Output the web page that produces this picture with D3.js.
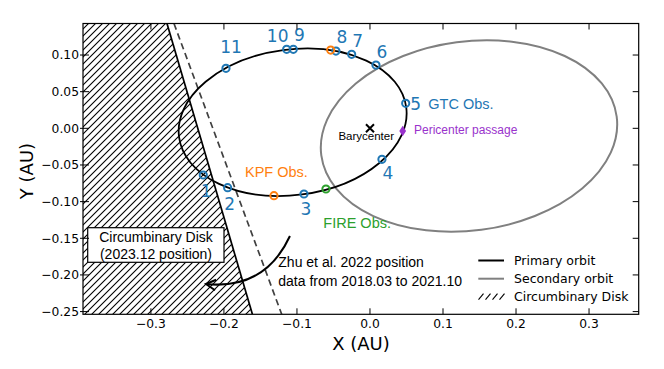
<!DOCTYPE html>
<html><head><meta charset="utf-8">
<script src="https://cdn.jsdelivr.net/npm/d3@7"></script>
<style>body{margin:0;background:#fff}</style>
</head><body>
<svg id="c" width="664" height="369"></svg>
<script>
// ---------- data ----------
const obsLabels = ["1","2","3","4","5","6","7","8","9","10","11"];
const obsX = [-0.2283,-0.1949,-0.0904,0.0164,0.0489,0.0082,-0.0251,-0.0466,-0.1050,-0.1141,-0.1972];
const obsY = [-0.0637,-0.0810,-0.0896,-0.0423,0.0341,0.0863,0.1009,0.1054,0.1078,0.1078,0.0818];
const kpfX = [-0.0538,-0.1315];
const kpfY = [0.1068,-0.0919];
const fireX = [-0.0603];
const fireY = [-0.0828];
const periX = [0.0448];
const periY = [-0.0037];
const baryX = [0];
const baryY = [0];
// orbit ellipses: centre x, centre y, semi-major, semi-minor, tilt (deg)
const primaryOrbit = [-0.1059, 0.0083, 0.1569, 0.0993, 7.5];
const secondaryOrbit = [0.1356, -0.0105, 0.204, 0.129, 7.5];
// disk edges (2023.12 and Zhu et al. 2022)
const diskEdgeX = [-0.278, -0.161];
const diskEdgeY = [0.1430, -0.2537];
const zhuEdgeX = [-0.2684, -0.1209];
const zhuEdgeY = [0.1430, -0.2537];
const xTicks = [-0.3,-0.2,-0.1,0.0,0.1,0.2,0.3];
const yTicks = [-0.25,-0.20,-0.15,-0.10,-0.05,0.00,0.05,0.10];
const legendLabels = ["Primary orbit","Secondary orbit","Circumbinary Disk"];
// annotation arrow: start, control, end (data units)
const arrowPts = [[-0.1096,-0.1469],[-0.1438,-0.2206],[-0.2246,-0.2124]];

// ---------- layout ----------
const L = 83, R = 638.7, T = 23.5, B = 314.3;
const x = d3.scaleLinear().domain([-0.393, 0.368]).range([L, R]);
const y = d3.scaleLinear().domain([-0.2537, 0.1430]).range([B, T]);
const svg = d3.select("#c");
const defs = svg.append("defs");
defs.append("clipPath").attr("id","clip").append("rect")
  .attr("x",L).attr("y",T).attr("width",R-L).attr("height",B-T);
const hw = 7;
const pat = defs.append("pattern").attr("id","hatch").attr("patternUnits","userSpaceOnUse")
  .attr("width",hw).attr("height",hw);
pat.append("path").attr("d",`M-1,1 l2,-2 M0,${hw} l${hw},-${hw} M${hw-1},${hw+1} l2,-2`)
  .attr("stroke","#000").attr("stroke-width",1.1);

const plot = svg.append("g").attr("clip-path","url(#clip)");
const font1 = "'Liberation Sans', Arial, sans-serif";
const font2 = "'DejaVu Sans', sans-serif";

// hatch region
const dom = x.domain();
const poly = [[dom[0]-0.05, diskEdgeY[0]], [diskEdgeX[0], diskEdgeY[0]], [diskEdgeX[1], diskEdgeY[1]], [dom[0]-0.05, diskEdgeY[1]]];
plot.append("path").attr("d", d3.line().x(d=>x(d[0])).y(d=>y(d[1]))(poly) + "Z")
  .attr("fill","url(#hatch)").attr("stroke","none");
plot.append("line").attr("x1",x(diskEdgeX[0])).attr("y1",y(diskEdgeY[0]))
  .attr("x2",x(diskEdgeX[1])).attr("y2",y(diskEdgeY[1]))
  .attr("stroke","#000").attr("stroke-width",1.7);
plot.append("line").attr("x1",x(zhuEdgeX[0])).attr("y1",y(zhuEdgeY[0]))
  .attr("x2",x(zhuEdgeX[1])).attr("y2",y(zhuEdgeY[1]))
  .attr("stroke","#404040").attr("stroke-width",1.7).attr("stroke-dasharray","6.5,4");

// orbits
function drawOrbit(o, col, w){
  const [cx,cy,a,b,t] = o;
  plot.append("ellipse").attr("cx",x(cx)).attr("cy",y(cy))
    .attr("rx",x(cx+a)-x(cx)).attr("ry",y(cy)-y(cy+b))
    .attr("transform",`rotate(${-t},${x(cx)},${y(cy)})`)
    .attr("fill","none").attr("stroke",col).attr("stroke-width",w);
}
drawOrbit(secondaryOrbit, "#808080", 2);
drawOrbit(primaryOrbit, "#000", 1.8);

// markers
function circles(xs, ys, col){
  xs.forEach((v,i)=>{
    svg.append("circle").attr("cx",x(v)).attr("cy",y(ys[i])).attr("r",3.6)
      .attr("fill","none").attr("stroke",col).attr("stroke-width",2);
  });
}
circles(obsX, obsY, "#1f77b4");
circles(kpfX, kpfY, "#ff7f0e");
circles(fireX, fireY, "#2ca02c");
periX.forEach((v,i)=>{
  const px=x(v), py=y(periY[i]);
  svg.append("path").attr("d",`M${px},${py-5.3} L${px+3.4},${py} L${px},${py+5.3} L${px-3.4},${py} Z`)
    .attr("fill","#9932cc");
});
baryX.forEach((v,i)=>{
  const px=x(v), py=y(baryY[i]), s=4;
  svg.append("path").attr("d",`M${px-s},${py-s} L${px+s},${py+s} M${px-s},${py+s} L${px+s},${py-s}`)
    .attr("stroke","#000").attr("stroke-width",2);
});

// number labels
const labOff = [[3,16],[2,16],[2,15],[6,14],[10,1],[6,-13],[6,-13],[6,-14],[6,-14],[-9,-13],[5,-21]];
obsLabels.forEach((t,i)=>{
  svg.append("text").attr("x",x(obsX[i])+labOff[i][0]).attr("y",y(obsY[i])+labOff[i][1])
    .attr("text-anchor","middle").attr("dominant-baseline","central")
    .attr("font-family",font2).attr("font-size",17).attr("fill","#1f77b4").text(t);
});

// text annotations
function txt(px,py,t,opts){
  const e = svg.append("text").attr("x",px).attr("y",py).text(t)
    .attr("font-family",opts.f||font1).attr("font-size",opts.s||14).attr("fill",opts.c||"#000");
  if(opts.a) e.attr("text-anchor",opts.a);
  return e;
}
txt(428.3,108.8,"GTC Obs.",{c:"#1f77b4",s:14.5});
txt(414,134.3,"Pericenter passage",{c:"#9932cc",s:12});
txt(366.2,140,"Barycenter",{s:11.5,a:"middle"});
txt(245,176.7,"KPF Obs.",{c:"#ff7f0e",s:14.5});
txt(323.3,228.3,"FIRE Obs.",{c:"#2ca02c",s:14.5});
txt(278.3,267,"Zhu et al. 2022 position",{s:14});
txt(278.3,285.5,"data from 2018.03 to 2021.10",{s:14});

// box
svg.append("rect").attr("x",87.7).attr("y",227.7).attr("width",136.3).attr("height",34.6)
  .attr("fill","#fff").attr("stroke","#000").attr("stroke-width",1.2);
txt(156,242,"Circumbinary Disk",{s:14,a:"middle"});
txt(156,259,"(2023.12 position)",{s:14,a:"middle"});

// arrow
const [p0,p1,p2] = arrowPts.map(p=>[x(p[0]),y(p[1])]);
svg.append("path").attr("d",`M${p0[0]},${p0[1]} Q${p1[0]},${p1[1]} ${p2[0]},${p2[1]}`)
  .attr("fill","none").attr("stroke","#000").attr("stroke-width",2);
{
  const dx=p2[0]-p1[0], dy=p2[1]-p1[1], n=Math.hypot(dx,dy), ux=dx/n, uy=dy/n;
  const len=11, ang=0.5;
  const a1=[p2[0]-len*(ux*Math.cos(ang)-uy*Math.sin(ang)), p2[1]-len*(uy*Math.cos(ang)+ux*Math.sin(ang))];
  const a2=[p2[0]-len*(ux*Math.cos(-ang)-uy*Math.sin(-ang)), p2[1]-len*(uy*Math.cos(-ang)+ux*Math.sin(-ang))];
  svg.append("path").attr("d",`M${a1[0]},${a1[1]} L${p2[0]},${p2[1]} L${a2[0]},${a2[1]}`)
    .attr("fill","none").attr("stroke","#000").attr("stroke-width",2).attr("stroke-linejoin","miter");
}

// legend
const legY = [260.5, 278.7, 296.7];
const lg = svg.append("g");
lg.append("line").attr("x1",478.3).attr("x2",504).attr("y1",legY[0]).attr("y2",legY[0]).attr("stroke","#000").attr("stroke-width",2);
lg.append("line").attr("x1",478.3).attr("x2",504).attr("y1",legY[1]).attr("y2",legY[1]).attr("stroke","#808080").attr("stroke-width",2);
for(let k=0;k<4;k++){
  const bx=478.5+k*7;
  lg.append("line").attr("x1",bx).attr("y1",legY[2]+3).attr("x2",bx+5).attr("y2",legY[2]-3).attr("stroke","#000").attr("stroke-width",1.1);
}
legendLabels.forEach((t,i)=>{
  txt(514,legY[i]+4.6,t,{f:font2,s:12.5});
});

// axes frame & ticks
svg.append("rect").attr("x",L).attr("y",T).attr("width",R-L).attr("height",B-T)
  .attr("fill","none").attr("stroke","#000").attr("stroke-width",1.2);
const ax = svg.append("g").attr("stroke","#000").attr("stroke-width",1);
xTicks.forEach(v=>{
  ax.append("line").attr("x1",x(v)).attr("x2",x(v)).attr("y1",B).attr("y2",B-6);
  ax.append("line").attr("x1",x(v)).attr("x2",x(v)).attr("y1",T).attr("y2",T+6);
  txt(x(v),328.3,(v<0?"\u2212":"")+Math.abs(v).toFixed(1),{f:font2,s:12.3,a:"middle"});
});
yTicks.forEach(v=>{
  ax.append("line").attr("x1",L-3).attr("x2",L+6).attr("y1",y(v)).attr("y2",y(v));
  ax.append("line").attr("x1",R).attr("x2",R-6).attr("y1",y(v)).attr("y2",y(v));
  txt(79,y(v)+4.4,(v<0?"\u2212":"")+Math.abs(v).toFixed(2),{f:font2,s:12.3,a:"end"});
});
txt(361,349.5,"X (AU)",{f:font2,s:18,a:"middle"});
svg.append("text").attr("transform","translate(33,171) rotate(-90)").attr("text-anchor","middle")
  .attr("font-family",font2).attr("font-size",18).text("Y (AU)");
</script>
</body></html>
